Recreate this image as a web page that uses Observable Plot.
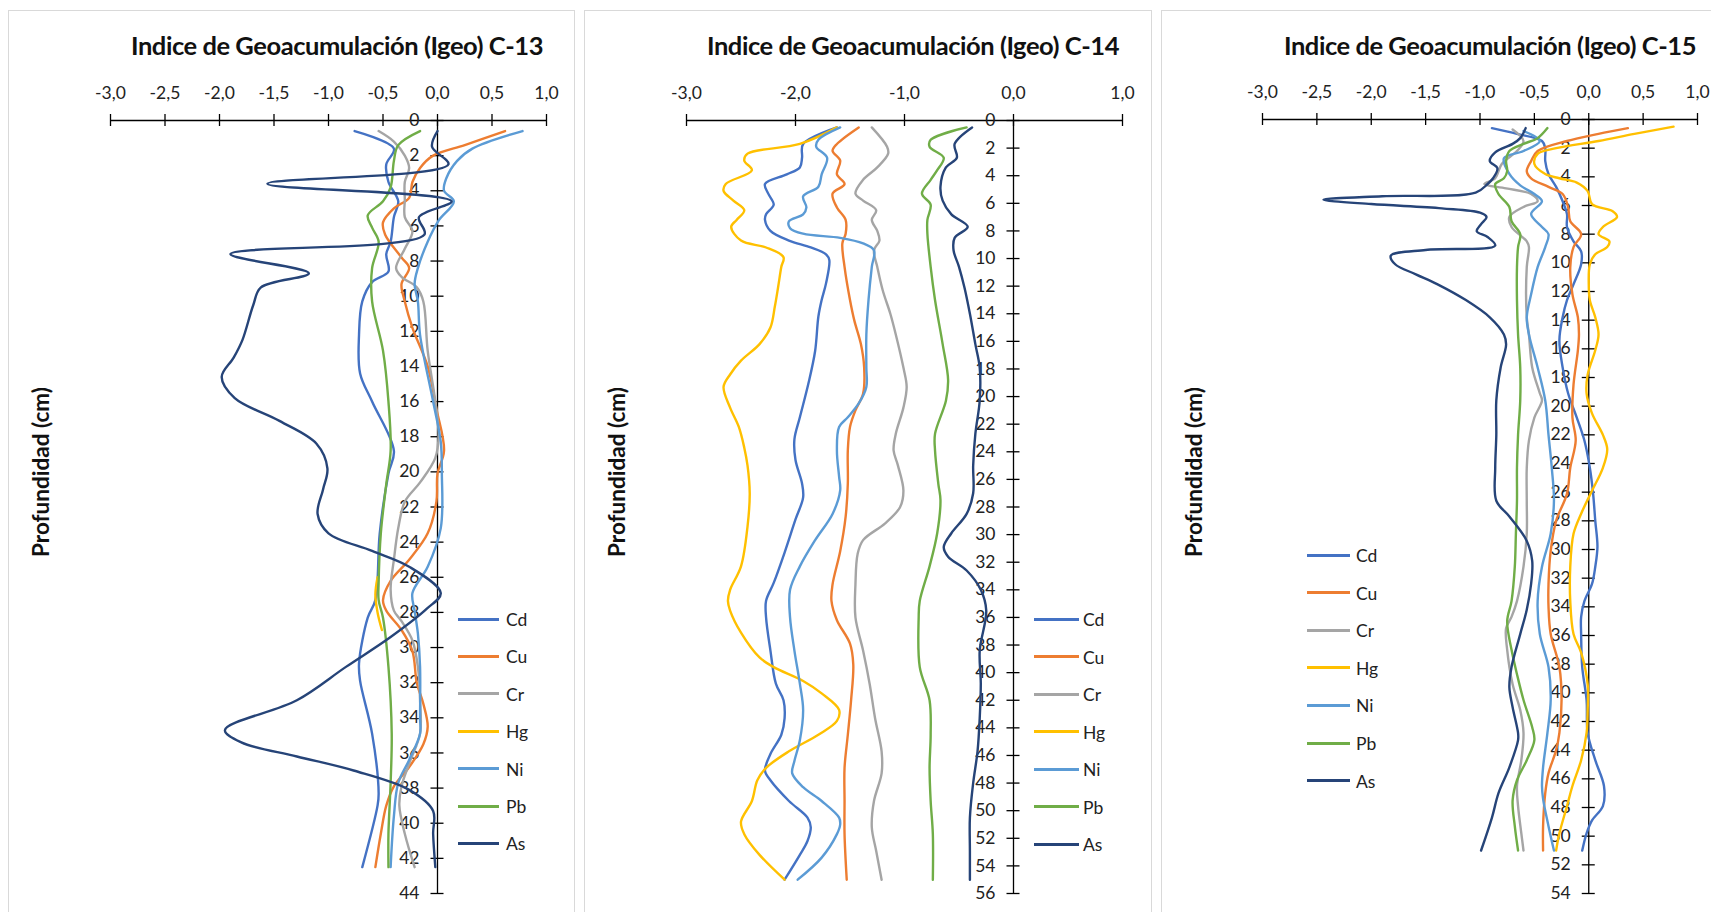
<!DOCTYPE html>
<html>
<head>
<meta charset="utf-8">
<script src="https://cdn.jsdelivr.net/npm/d3@7"></script>
<script src="https://cdn.jsdelivr.net/npm/@observablehq/plot@0.6"></script>
<style>
  html,body{margin:0;padding:0;background:#fff;}
  body{width:1711px;height:912px;position:relative;overflow:hidden;font-family:Lato,"Open Sans",sans-serif;}
  .panel{position:absolute;top:0;height:912px;}
  .frame{position:absolute;left:0;top:10px;right:0;bottom:-2px;border:1px solid #d9d9d9;}
  .chart{position:absolute;left:0;top:0;}
  .title{position:absolute;top:45px;transform:translate(-50%,-50%);font-weight:700;font-size:25.5px;letter-spacing:-0.45px;white-space:nowrap;color:#111;}
  .ytitle{position:absolute;transform:translate(-50%,-50%) rotate(-90deg);font-weight:700;font-size:22.5px;white-space:nowrap;color:#111;}
  .leg{position:absolute;left:0;height:0;}
  .leg .ln{position:absolute;height:3px;top:-1.5px;}
  .leg .lb{position:absolute;top:0;transform:translateY(-50%);font-size:17.5px;color:#222;white-space:nowrap;}
</style>
</head>
<body>
<script>
// ---------- categories & colours ----------
const elements = ["Cd","Cu","Cr","Hg","Ni","Pb","As"];
const colors   = ["#4472C4","#ED7D31","#A5A5A5","#FFC000","#5B9BD5","#70AD47","#264478"];

// ---------- tick labels ----------
const xTicksHalf = [-3,-2.5,-2,-1.5,-1,-0.5,0,0.5,1];
const xTicksUnit = [-3,-2,-1,0,1];
const depthTicksC13 = [0,2,4,6,8,10,12,14,16,18,20,22,24,26,28,30,32,34,36,38,40,42,44];
const depthTicksC14 = [0,2,4,6,8,10,12,14,16,18,20,22,24,26,28,30,32,34,36,38,40,42,44,46,48,50,52,54,56];
const depthTicksC15 = [0,2,4,6,8,10,12,14,16,18,20,22,24,26,28,30,32,34,36,38,40,42,44,46,48,50,52,54];

// ---------- C-13 : [depth (cm), Igeo] ----------
const c13_Cd = [[0.6,-0.76],[1.6,-0.4],[2.5,-0.47],[3.5,-0.45],[4.6,-0.36],[5.5,-0.4],[6.9,-0.43],[7.6,-0.47],[8.6,-0.45],[9.2,-0.6],[10.3,-0.69],[12.2,-0.72],[14.4,-0.71],[16,-0.6],[18.8,-0.4],[20.1,-0.45],[23.5,-0.53],[27.3,-0.57],[28.3,-0.64],[30.9,-0.72],[31.9,-0.71],[34.9,-0.6],[38.3,-0.54],[39,-0.55],[42.5,-0.69]];
const c13_Cu = [[0.6,0.62],[1.4,0.25],[2,-0.04],[2.7,-0.16],[3.5,-0.23],[4.4,-0.26],[5,-0.4],[5.8,-0.5],[6.5,-0.48],[7.8,-0.33],[8.4,-0.26],[9.3,-0.33],[10.3,-0.3],[11.8,-0.23],[14,-0.09],[16.4,-0.01],[18.8,0.06],[20.1,0.0],[21.7,-0.01],[23.5,-0.09],[25,-0.26],[26.2,-0.43],[27.3,-0.5],[27.9,-0.47],[29,-0.33],[30.2,-0.23],[32,-0.19],[33.2,-0.13],[34.5,-0.09],[35.5,-0.13],[36.8,-0.26],[37.9,-0.4],[39,-0.47],[40.6,-0.52],[42.5,-0.57]];
const c13_Cr = [[0.6,-0.54],[1.2,-0.4],[2,-0.3],[2.7,-0.26],[3.5,-0.3],[4.5,-0.3],[5.5,-0.3],[6.3,-0.23],[7.3,-0.3],[8.4,-0.38],[8.9,-0.33],[9.5,-0.19],[10.3,-0.13],[13.1,-0.09],[16,-0.02],[17.9,0.01],[19.2,-0.02],[20.6,-0.16],[21.7,-0.3],[23.2,-0.36],[25,-0.4],[26.7,-0.43],[27.9,-0.4],[28.5,-0.33],[29.6,-0.23],[31.1,-0.18],[33,-0.16],[34.9,-0.16],[36.6,-0.26],[37.9,-0.33],[39,-0.35],[40.6,-0.3],[42.5,-0.21]];
const c13_Hg = [[26,-0.55],[27,-0.57],[28,-0.55],[29,-0.51]];
const c13_Ni = [[0.6,0.78],[1.6,0.32],[2.3,0.18],[3.3,0.08],[4,0.06],[4.6,0.15],[5.7,0.01],[6.9,-0.09],[8.4,-0.18],[9.3,-0.21],[10.3,-0.18],[12.2,-0.16],[16,-0.04],[18.3,0.03],[20.1,0.04],[23.2,0.03],[25.4,-0.09],[26.9,-0.23],[27.9,-0.21],[29.2,-0.18],[31.1,-0.16],[34,-0.16],[34.9,-0.16],[36.4,-0.26],[37.7,-0.36],[39.6,-0.4],[42.5,-0.43]];
const c13_Pb = [[0.6,-0.16],[1.4,-0.36],[2.3,-0.4],[3.8,-0.43],[4.6,-0.5],[5.4,-0.64],[6.1,-0.6],[6.9,-0.54],[8.4,-0.6],[10.3,-0.6],[13.1,-0.5],[16,-0.45],[18.8,-0.43],[20.7,-0.47],[23.5,-0.52],[26.3,-0.54],[27.3,-0.54],[28.3,-0.5],[31.1,-0.45],[34.9,-0.42],[37.7,-0.43],[40.6,-0.45],[42.5,-0.45]];
const c13_As = [[0.6,0.0],[1.5,-0.05],[2.5,0.1],[3.6,-1.56],[4.6,0.13],[5.5,-0.17],[6.5,-0.12],[7.6,-1.9],[8.7,-1.18],[9.5,-1.62],[10.5,-1.69],[12.5,-1.79],[13.5,-1.87],[14.6,-1.98],[15.8,-1.86],[17.1,-1.45],[18.4,-1.11],[19.8,-1.01],[21,-1.05],[22.4,-1.1],[23.5,-1.0],[24.5,-0.6],[25.4,-0.26],[26.9,0.03],[27.8,-0.1],[29.4,-0.43],[31.1,-0.84],[33,-1.29],[34.7,-1.95],[35.4,-1.8],[36.2,-1.29],[37,-0.77],[38.1,-0.26],[39.3,-0.04],[40.6,-0.04],[42.5,-0.02]];

// ---------- C-14 ----------
const c14_Cd = [[0.5,-1.62],[1.7,-1.93],[2.7,-1.94],[3.4,-1.96],[3.9,-2.08],[4.6,-2.28],[5.3,-2.25],[6.1,-2.2],[6.8,-2.27],[7.2,-2.28],[8,-2.23],[8.7,-2.06],[9.2,-1.86],[9.7,-1.72],[10.1,-1.69],[11.8,-1.72],[13,-1.76],[14.2,-1.79],[16.7,-1.82],[19,-1.88],[21.5,-1.96],[23.1,-2.01],[24.6,-2],[26.3,-1.94],[27.3,-1.93],[28.9,-2],[31.3,-2.1],[33.5,-2.2],[34.8,-2.27],[36,-2.27],[38.4,-2.23],[40.8,-2.18],[42,-2.11],[43.3,-2.1],[44.5,-2.13],[45.9,-2.23],[47.1,-2.28],[47.8,-2.23],[49.3,-2.06],[50.5,-1.89],[51.2,-1.86],[52.2,-1.89],[53.2,-1.96],[55,-2.1]];
const c14_Cu = [[0.5,-1.42],[1.7,-1.62],[2.2,-1.66],[2.9,-1.59],[3.9,-1.62],[4.6,-1.55],[5.3,-1.66],[6.3,-1.62],[7.2,-1.54],[8.2,-1.54],[8.9,-1.57],[10.6,-1.55],[13,-1.5],[14.5,-1.46],[16.2,-1.4],[17.9,-1.37],[19.8,-1.38],[21,-1.45],[22.2,-1.5],[23.9,-1.52],[26.3,-1.52],[28.7,-1.54],[31.2,-1.59],[33.6,-1.66],[34.8,-1.67],[36.2,-1.62],[37.9,-1.5],[39.4,-1.47],[42,-1.49],[44.5,-1.52],[46.9,-1.55],[49.3,-1.55],[51.7,-1.55],[55,-1.53]];
const c14_Cr = [[0.5,-1.3],[1.9,-1.16],[2.4,-1.15],[3.4,-1.25],[4.3,-1.38],[5.3,-1.45],[5.8,-1.38],[6.5,-1.26],[7.2,-1.3],[8,-1.25],[8.7,-1.23],[9.4,-1.28],[10.6,-1.25],[12.3,-1.2],[14,-1.13],[15.5,-1.08],[17.9,-1.01],[19.3,-0.98],[20.8,-1.01],[22.7,-1.08],[23.9,-1.1],[25,-1.06],[26.8,-1.01],[28,-1.04],[29.2,-1.18],[30.4,-1.38],[31.4,-1.43],[33.6,-1.45],[36,-1.45],[38.4,-1.38],[40.8,-1.32],[43.3,-1.27],[45.7,-1.21],[47.3,-1.21],[49.3,-1.28],[51.2,-1.3],[52.9,-1.26],[55,-1.21]];
const c14_Hg = [[0.5,-1.62],[1.7,-1.96],[2.4,-2.44],[2.9,-2.47],[3.6,-2.4],[4.6,-2.64],[5.1,-2.66],[5.8,-2.57],[6.5,-2.47],[7.2,-2.54],[7.7,-2.59],[8.7,-2.5],[9.2,-2.27],[9.9,-2.11],[10.6,-2.13],[12.1,-2.16],[13.5,-2.19],[15,-2.23],[16.2,-2.33],[17.4,-2.5],[18.4,-2.6],[19.3,-2.66],[20.8,-2.6],[22.2,-2.52],[23.7,-2.47],[25,-2.44],[27,-2.42],[29.4,-2.44],[32.3,-2.5],[34,-2.6],[34.8,-2.62],[35.5,-2.6],[37.1,-2.5],[38.9,-2.33],[39.6,-2.2],[40.6,-1.93],[41.5,-1.76],[42.7,-1.6],[43.5,-1.62],[44.5,-1.79],[45.7,-2.06],[46.9,-2.27],[47.8,-2.35],[49.3,-2.4],[50.8,-2.5],[51.7,-2.47],[53.2,-2.33],[55,-2.1]];
const c14_Ni = [[0.5,-1.59],[1.4,-1.79],[1.9,-1.81],[2.7,-1.71],[3.9,-1.76],[4.8,-1.79],[5.5,-1.93],[6.3,-1.9],[6.8,-1.93],[7.3,-2.06],[7.8,-2.05],[8.2,-1.93],[8.5,-1.59],[8.9,-1.38],[9.4,-1.28],[10.6,-1.3],[13,-1.33],[15.5,-1.35],[17.9,-1.35],[19.3,-1.35],[20.5,-1.42],[21.5,-1.52],[22.2,-1.6],[23.9,-1.62],[25.8,-1.6],[26.8,-1.59],[28.5,-1.66],[30.4,-1.82],[32.3,-1.96],[34,-2.05],[36,-2.05],[38.4,-2.01],[40.8,-1.96],[42.7,-1.93],[44.9,-1.96],[46.4,-2.01],[47.3,-2.03],[48.3,-1.93],[49.3,-1.76],[50.5,-1.6],[51,-1.59],[51.7,-1.62],[53.4,-1.76],[55,-1.98]];
const c14_Pb = [[0.5,-0.43],[1.4,-0.76],[1.9,-0.77],[2.7,-0.64],[3.6,-0.7],[4.3,-0.76],[5.3,-0.84],[6.1,-0.76],[7.2,-0.79],[8.2,-0.79],[10.6,-0.76],[13,-0.72],[16.2,-0.65],[18.8,-0.6],[20.3,-0.62],[22.7,-0.72],[23.9,-0.72],[26.3,-0.69],[27.5,-0.67],[29.9,-0.7],[32.3,-0.77],[34.8,-0.86],[36,-0.87],[39.6,-0.86],[42,-0.77],[44.5,-0.76],[46.9,-0.77],[49.3,-0.76],[51.7,-0.74],[55,-0.74]];
const c14_As = [[0.5,-0.38],[1.7,-0.54],[2.7,-0.52],[3.4,-0.62],[4.8,-0.67],[5.8,-0.65],[6.8,-0.57],[7.7,-0.42],[8.5,-0.54],[9.4,-0.55],[10.6,-0.5],[12.1,-0.45],[14,-0.4],[16.2,-0.35],[17.9,-0.31],[20.3,-0.31],[22.7,-0.35],[25,-0.37],[27,-0.37],[28.5,-0.43],[29.9,-0.57],[30.9,-0.64],[31.6,-0.6],[32.6,-0.43],[34,-0.3],[35.5,-0.25],[38.4,-0.31],[40.8,-0.3],[43.3,-0.31],[45.7,-0.33],[48,-0.37],[50.5,-0.4],[52.9,-0.4],[55,-0.4]];

// ---------- C-15 ----------
const c15_Cd = [[0.6,-0.89],[1,-0.66],[1.5,-0.43],[2,-0.4],[2.9,-0.4],[3.8,-0.37],[4.7,-0.3],[5.7,-0.24],[6.6,-0.2],[7.5,-0.2],[8.5,-0.14],[9.2,-0.07],[10.1,-0.07],[11.5,-0.14],[12.6,-0.2],[13.8,-0.24],[15.4,-0.27],[17.3,-0.24],[19.1,-0.19],[20.8,-0.11],[22.4,-0.04],[24.3,0.01],[26.1,0.04],[28,0.06],[29.8,0.08],[31.2,0.06],[32.4,0.03],[33.6,-0.04],[34.7,-0.07],[35.9,-0.07],[38.2,-0.06],[40.5,-0.02],[42.8,-0.01],[44.7,0.06],[46.5,0.14],[47.9,0.13],[48.9,0.03],[49.8,-0.02],[51,-0.06]];
const c15_Cu = [[0.6,0.36],[1,0.09],[1.5,-0.2],[2.2,-0.47],[2.9,-0.53],[3.6,-0.57],[4.1,-0.53],[4.7,-0.37],[5.2,-0.24],[6.1,-0.19],[7.1,-0.17],[8,-0.07],[8.9,-0.14],[10.3,-0.17],[12.2,-0.15],[13.8,-0.1],[15,-0.09],[16.1,-0.1],[18.5,-0.14],[20.8,-0.15],[22.4,-0.12],[24.3,-0.17],[26.1,-0.2],[28,-0.3],[30.1,-0.35],[32.4,-0.37],[34,-0.37],[35.9,-0.35],[38.2,-0.27],[40.5,-0.25],[42.8,-0.27],[44,-0.3],[45.6,-0.37],[47,-0.4],[49.3,-0.42],[51,-0.42]];
const c15_Cr = [[0.7,-0.7],[1.5,-0.6],[2.2,-0.66],[3.1,-0.8],[4.1,-0.86],[4.5,-0.96],[4.8,-0.76],[5.2,-0.53],[5.7,-0.47],[6.1,-0.6],[6.8,-0.73],[7.5,-0.71],[8.5,-0.57],[8.9,-0.55],[10.3,-0.57],[13.8,-0.57],[15,-0.55],[17.3,-0.52],[19.1,-0.45],[19.6,-0.43],[20.8,-0.5],[22.4,-0.55],[24.3,-0.57],[26.6,-0.57],[28.9,-0.57],[31.2,-0.6],[33.6,-0.66],[34.7,-0.71],[35.5,-0.76],[37,-0.75],[39.4,-0.7],[41.2,-0.63],[42.8,-0.6],[44.7,-0.62],[46.5,-0.66],[47.9,-0.65],[49.8,-0.62],[51,-0.6]];
const c15_Hg = [[0.5,0.78],[1,0.42],[1.5,0.09],[2,-0.3],[2.4,-0.47],[3.1,-0.5],[3.8,-0.4],[4.1,-0.27],[4.4,-0.11],[5,-0.01],[5.9,0.03],[6.4,0.22],[6.8,0.26],[7.5,0.13],[8,0.09],[8.5,0.19],[8.9,0.17],[9.4,0.06],[10.1,0.01],[11.5,0],[12.6,0.01],[13.8,0.06],[15,0.09],[16.1,0.06],[17.8,-0.01],[19.1,-0.02],[20.5,0.03],[22,0.13],[23,0.17],[24.3,0.13],[25.9,0.03],[27.5,-0.07],[28.9,-0.14],[31.2,-0.17],[33.6,-0.17],[35.9,-0.14],[37.2,-0.07],[39.4,-0.01],[41.2,-0.01],[42.8,-0.02],[44.7,-0.07],[46.5,-0.15],[47.9,-0.2],[49.8,-0.27],[51,-0.3]];
const c15_Ni = [[0.8,-0.6],[1.5,-0.45],[2.2,-0.6],[2.7,-0.78],[3.8,-0.73],[4.6,-0.63],[5.2,-0.5],[5.7,-0.43],[6.6,-0.53],[7.5,-0.43],[8,-0.37],[8.9,-0.4],[10.3,-0.47],[12.2,-0.53],[13.8,-0.57],[15,-0.55],[17.3,-0.47],[19.6,-0.4],[22,-0.37],[24.3,-0.34],[26.6,-0.32],[28.9,-0.35],[31.2,-0.43],[33.6,-0.47],[35.9,-0.45],[38.2,-0.37],[40.5,-0.35],[42.8,-0.38],[45.2,-0.42],[46.5,-0.43],[47.4,-0.42],[49.3,-0.37],[51,-0.32]];
const c15_Pb = [[0.6,-0.38],[1.3,-0.47],[1.7,-0.6],[2.2,-0.73],[2.9,-0.76],[3.6,-0.75],[4.1,-0.78],[4.5,-0.86],[5.2,-0.83],[6.1,-0.73],[7.1,-0.71],[8,-0.63],[8.9,-0.65],[10.3,-0.66],[12.6,-0.66],[15,-0.65],[17.3,-0.63],[19.6,-0.63],[22,-0.65],[24.3,-0.66],[26.6,-0.66],[28.9,-0.67],[31.2,-0.68],[33.6,-0.71],[35,-0.75],[37,-0.71],[38.7,-0.66],[40.5,-0.6],[42.4,-0.52],[43.3,-0.5],[44.7,-0.57],[46.1,-0.66],[47.5,-0.7],[49.3,-0.68],[51,-0.65]];
const c15_As = [[0.6,-0.58],[1.3,-0.63],[1.7,-0.7],[2.3,-0.86],[2.9,-0.91],[3.4,-0.84],[4.1,-0.88],[4.5,-0.93],[5.1,-1.04],[5.35,-1.9],[5.6,-2.44],[5.9,-2.0],[6.2,-1.35],[6.5,-1.0],[6.8,-0.94],[7.3,-0.99],[7.8,-1.03],[8.2,-0.93],[8.8,-0.86],[9.1,-1.5],[9.5,-1.82],[10.1,-1.78],[10.8,-1.59],[11.5,-1.39],[12.6,-1.13],[13.8,-0.91],[15,-0.78],[15.7,-0.76],[17.3,-0.81],[19.6,-0.85],[22,-0.85],[24.3,-0.86],[26.6,-0.85],[27.7,-0.73],[29.4,-0.57],[30.8,-0.52],[32.4,-0.53],[34.2,-0.57],[35.9,-0.63],[38.2,-0.71],[39.6,-0.73],[41,-0.7],[42.8,-0.65],[43.3,-0.65],[45.2,-0.73],[47,-0.83],[48.7,-0.89],[51,-0.99]];

// ---------- panel layout ----------
const panels = [
  {title:"Indice de Geoacumulación (Igeo) C-13", left:8, width:567, xTicks:xTicksHalf, yTicks:depthTicksC13,
   xRange:[102,538], yRange:[120,893], series:{Cd:c13_Cd,Cu:c13_Cu,Cr:c13_Cr,Hg:c13_Hg,Ni:c13_Ni,Pb:c13_Pb,As:c13_As},
   legend:{x1:450,x2:491,tx:498,y0:619,dy:37.4}},
  {title:"Indice de Geoacumulación (Igeo) C-14", left:584, width:568, xTicks:xTicksUnit, yTicks:depthTicksC14,
   xRange:[102,538], yRange:[120,893], series:{Cd:c14_Cd,Cu:c14_Cu,Cr:c14_Cr,Hg:c14_Hg,Ni:c14_Ni,Pb:c14_Pb,As:c14_As},
   legend:{x1:450,x2:495,tx:499,y0:619,dy:37.5}},
  {title:"Indice de Geoacumulación (Igeo) C-15", left:1161, width:560, xTicks:xTicksHalf, yTicks:depthTicksC15,
   xRange:[101,536], yRange:[119,893], series:{Cd:c15_Cd,Cu:c15_Cu,Cr:c15_Cr,Hg:c15_Hg,Ni:c15_Ni,Pb:c15_Pb,As:c15_As},
   legend:{x1:146,x2:189,tx:195,y0:555,dy:37.6}}
];

const fmtX = d => d.toFixed(1).replace(".", ",");
const tickColor = "#000";
const labelColor = "#222";

for (const p of panels) {
  const wrap = document.createElement("div");
  wrap.className = "panel";
  wrap.style.left = p.left + "px";
  wrap.style.width = p.width + "px";
  document.body.appendChild(wrap);

  const frame = document.createElement("div");
  frame.className = "frame";
  wrap.appendChild(frame);

  const ymax = p.yTicks[p.yTicks.length - 1];
  const marks = [
    Plot.ruleY([0], {x1: -3, x2: 1, stroke: tickColor, strokeWidth: 1.3}),
    Plot.ruleX(p.xTicks, {x: d => d, y1: 0, y2: 0, insetTop: -6, insetBottom: -6, stroke: tickColor, strokeWidth: 1.3}),
    Plot.text(p.xTicks, {x: d => d, y: 0, text: fmtX, dy: -27, fontSize: 17.5, fill: labelColor}),
    Plot.ruleX([0], {y1: 0, y2: ymax, stroke: tickColor, strokeWidth: 1.3}),
    Plot.ruleY(p.yTicks, {y: d => d, x1: 0, x2: 0, insetLeft: -6.5, insetRight: -6.5, stroke: tickColor, strokeWidth: 1.3}),
    Plot.text(p.yTicks, {x: 0, y: d => d, text: d => String(d), dx: -18, textAnchor: "end", fontSize: 17.5, fill: labelColor})
  ];
  elements.forEach((el, i) => {
    const data = p.series[el];
    if (data && data.length) {
      marks.push(Plot.line(data, {x: d => d[1], y: d => d[0], curve: "catmull-rom", stroke: colors[i], strokeWidth: 2.4}));
    }
  });

  const svg = Plot.plot({
    width: p.width, height: 912, margin: 0,
    x: {domain: [-3, 1], range: p.xRange, axis: null},
    y: {domain: [0, ymax], range: p.yRange, axis: null},
    style: {fontFamily: "Lato, 'Open Sans', sans-serif", background: "transparent", overflow: "visible"},
    marks
  });
  svg.classList.add("chart");
  svg.style.position = "absolute";
  svg.style.left = "0px";
  svg.style.top = "0px";
  wrap.appendChild(svg);

  const t = document.createElement("div");
  t.className = "title";
  t.style.left = "329px";
  t.textContent = p.title;
  wrap.appendChild(t);

  const yt = document.createElement("div");
  yt.className = "ytitle";
  yt.style.left = "32px";
  yt.style.top = "472px";
  yt.textContent = "Profundidad (cm)";
  wrap.appendChild(yt);

  elements.forEach((el, i) => {
    const item = document.createElement("div");
    item.className = "leg";
    item.style.top = (p.legend.y0 + i * p.legend.dy) + "px";
    const ln = document.createElement("div");
    ln.className = "ln";
    ln.style.left = p.legend.x1 + "px";
    ln.style.width = (p.legend.x2 - p.legend.x1) + "px";
    ln.style.background = colors[i];
    const lb = document.createElement("div");
    lb.className = "lb";
    lb.style.left = p.legend.tx + "px";
    lb.textContent = el;
    item.appendChild(ln);
    item.appendChild(lb);
    wrap.appendChild(item);
  });
}
</script>
</body>
</html>
